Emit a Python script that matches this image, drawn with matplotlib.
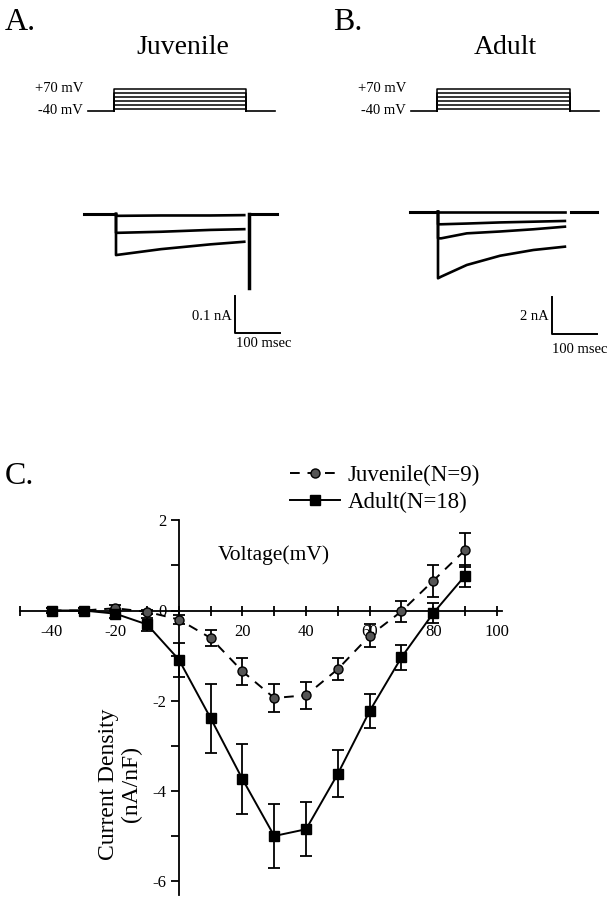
import matplotlib
matplotlib.use('Agg')
import matplotlib.pyplot as plt

plt.rcParams['font.family'] = ['Liberation Serif', 'DejaVu Serif']
plt.rcParams['axes.unicode_minus'] = False

# ---- data ----
# voltage protocol (mV), step 0-300 ms from a -40 mV holding level
holding_mv = -40
step_levels_mv = [-30, -10, 10, 30, 50, 70]
step_ms = 300

# current traces, panel A (juvenile), nA
juv_trace_t = [0, 100, 210, 285]
juv_traces = [
    [-0.005, -0.004, -0.004, -0.003],
    [-0.051, -0.048, -0.043, -0.041],
    [-0.111, -0.095, -0.082, -0.075],
]
juv_tail_t = 295
juv_tail_na = -0.2

# current traces, panel B (adult), nA
adult_trace_t = [0, 7, 64, 138, 212, 282]
adult_traces = [
    [-0.04, -0.04, -0.04, -0.04, -0.04, -0.04],
    [-0.68, -0.68, -0.64, -0.58, -0.54, -0.50],
    [-1.44, -1.44, -1.17, -1.07, -0.95, -0.81],
    [-3.60, -3.51, -2.88, -2.38, -2.07, -1.89],
]

# I-V relation, panel C
voltage = [-40, -30, -20, -10, 0, 10, 20, 30, 40, 50, 60, 70, 80, 90]
juv_mean = [0.0, 0.0, 0.05, -0.03, -0.2, -0.61, -1.35, -1.94, -1.88, -1.3, -0.56, -0.02, 0.66, 1.34]
juv_sem = [0.05, 0.05, 0.07, 0.05, 0.1, 0.17, 0.3, 0.31, 0.3, 0.25, 0.25, 0.23, 0.35, 0.37]
adult_mean = [0.0, 0.0, -0.07, -0.31, -1.09, -2.39, -3.74, -5.0, -4.85, -3.62, -2.23, -1.04, -0.06, 0.77]
adult_sem = [0.05, 0.05, 0.1, 0.15, 0.38, 0.77, 0.77, 0.7, 0.6, 0.52, 0.38, 0.27, 0.22, 0.24]

W, H = 614, 899
fig = plt.figure(figsize=(W / 100, H / 100), dpi=100)


def add_axes_px(x0_px, y0_px, sx, sy, xlim, ylim, off=True):
    # x0_px, y0_px = pixel of data (0, 0); sx, sy = pixels per data unit
    left = x0_px + xlim[0] * sx
    right = x0_px + xlim[1] * sx
    top = y0_px - ylim[1] * sy
    bottom = y0_px - ylim[0] * sy
    ax = fig.add_axes([left / W, 1 - bottom / H, (right - left) / W, (bottom - top) / H])
    ax.set_xlim(xlim)
    ax.set_ylim(ylim)
    if off:
        ax.axis('off')
    return ax


def draw_protocol(ax):
    ax.plot([-58, 0], [holding_mv, holding_mv], color='black', lw=1.2)
    ax.plot([step_ms, step_ms + 65], [holding_mv, holding_mv], color='black', lw=1.2)
    for v in step_levels_mv:
        ax.plot([0, 0, step_ms, step_ms], [holding_mv, v, v, holding_mv], color='black', lw=1.1)
    ax.text(-70, 70, '+70 mV', ha='right', va='center', fontsize=10.5)
    ax.text(-70, -40, '-40 mV', ha='right', va='center', fontsize=10.5)


def draw_scalebar(ax, t0, i0, di, ilabel, ilabel_pos, tlabel_pos):
    ax.plot([t0, t0, t0 + 100], [i0 + di, i0, i0], color='black', lw=1.4, clip_on=False)
    ax.text(ilabel_pos[0], ilabel_pos[1], ilabel, ha='right', va='center', fontsize=10.5)
    ax.text(tlabel_pos[0], tlabel_pos[1], '100 msec', ha='left', va='center', fontsize=10.5)


# ---- panel A ----
axA = add_axes_px(114, 102.5, 0.44, 0.2, (-80, 380), (-100, 130))
draw_protocol(axA)
axAt = add_axes_px(116, 214, 0.45, 370, (-80, 380), (-0.36, 0.02))
axAt.plot([-72, -6], [0, 0], color='black', lw=2.2)
for tr in juv_traces:
    axAt.plot([0] + juv_trace_t, [0] + tr, color='black', lw=1.9)
axAt.plot([juv_tail_t, juv_tail_t], [0, juv_tail_na], color='black', lw=2.5)
axAt.plot([juv_tail_t, 357], [0, 0], color='black', lw=2.2)
draw_scalebar(axAt, 265, -0.322, 0.1, '0.1 nA', (257, -0.278), (266, -0.349))

# ---- panel B ----
axB = add_axes_px(437, 102.7, 0.443, 0.2, (-80, 380), (-100, 130))
draw_protocol(axB)
axBt = add_axes_px(438, 211.7, 0.45, 18.5, (-80, 380), (-7.2, 0.4))
axBt.plot([-62, -7], [0, 0], color='black', lw=2.2)
for tr in adult_traces:
    axBt.plot([0] + adult_trace_t, [0] + tr, color='black', lw=1.9)
axBt.plot([295, 353], [0, 0], color='black', lw=2.2)
draw_scalebar(axBt, 253, -6.61, 2, '2 nA', (245, -5.68), (253, -7.47))

fig.text(183 / W, 1 - 47 / H, 'Juvenile', ha='center', va='center', fontsize=20)
fig.text(505 / W, 1 - 47 / H, 'Adult', ha='center', va='center', fontsize=20)
fig.text(5 / W, 1 - 22 / H, 'A.', ha='left', va='center', fontsize=23)
fig.text(333 / W, 1 - 22 / H, 'B.', ha='left', va='center', fontsize=23)
fig.text(5 / W, 1 - 477 / H, 'C.', ha='left', va='center', fontsize=23)

# ---- panel C ----
axC = add_axes_px(178.9, 610.5, 3.179, 45.1, (-50, 101.5), (-6.3, 2.0), off=False)
for s in ['top', 'right']:
    axC.spines[s].set_visible(False)
axC.spines['left'].set_position(('data', 0))
axC.spines['bottom'].set_position(('data', 0))
axC.spines['left'].set_linewidth(1.3)
axC.spines['bottom'].set_linewidth(1.3)

xt = list(range(-50, 101, 10))
axC.set_xticks(xt)
axC.set_xticklabels([str(v) if v % 20 == 0 and v != 0 else '' for v in xt])
yt = list(range(-6, 3))
axC.set_yticks(yt)
axC.set_yticklabels([str(v) if v % 2 == 0 else '' for v in yt])
axC.tick_params(axis='x', direction='inout', length=7, width=1.3, pad=6, labelsize=12)
axC.tick_params(axis='y', direction='out', length=6, width=1.3, pad=3, labelsize=12)

axC.errorbar(voltage, juv_mean, yerr=juv_sem, fmt='none', ecolor='black',
             elinewidth=1.3, capsize=4.5, capthick=1.3, zorder=3)
axC.errorbar(voltage, adult_mean, yerr=adult_sem, fmt='none', ecolor='black',
             elinewidth=1.3, capsize=4.5, capthick=1.3, zorder=3)
hj, = axC.plot(voltage, juv_mean, ls=(0, (5, 4)), lw=1.4, color='black',
               marker='o', ms=6.5, mfc='#555555', mec='black', mew=1.0, zorder=4)
ha_, = axC.plot(voltage, adult_mean, ls='-', lw=1.4, color='black',
                marker='s', ms=6.5, mfc='black', mec='black', zorder=4)

axC.text(30, 1.22, 'Voltage(mV)', ha='center', va='center', fontsize=15.5)
axC.text(-18.5, -3.85, 'Current Density\n(nA/nF)', rotation=90, ha='center',
         va='center', fontsize=17, linespacing=1.15)

fig.legend([hj, ha_], ['Juvenile(N=9)', 'Adult(N=18)'], loc='center left',
           bbox_to_anchor=(290 / W, 1 - 489 / H), frameon=False, fontsize=16.5,
           handlelength=2.2, handletextpad=0.3, labelspacing=0.25,
           borderaxespad=0, borderpad=0)

fig.savefig('out.png', dpi=100)
